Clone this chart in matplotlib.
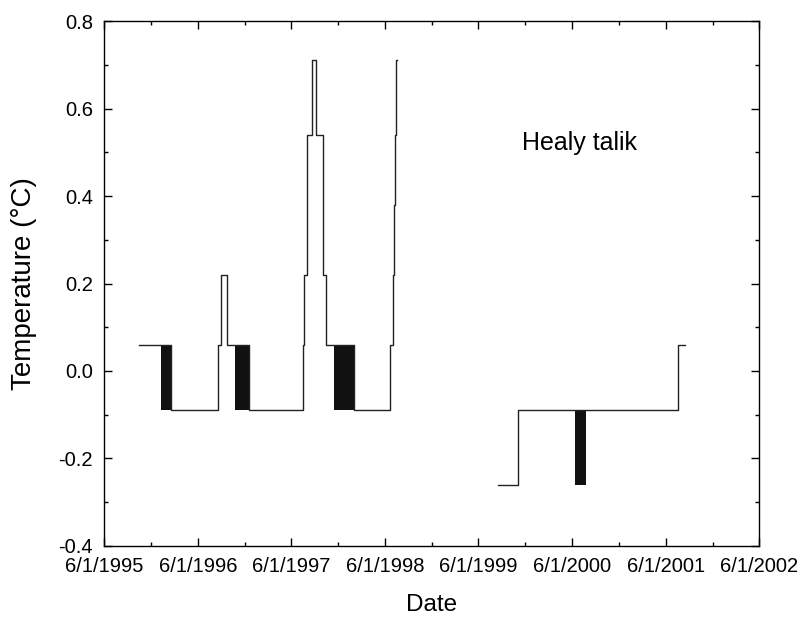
import numpy as np
import pandas as pd
import matplotlib
matplotlib.use('Agg')
import matplotlib.pyplot as plt
import matplotlib.dates as mdates
from matplotlib.ticker import MultipleLocator, FuncFormatter

plt.rcParams['font.family'] = ['Liberation Sans', 'DejaVu Sans']

# step record 1995-1998 (value holds until the next date)
dates1 = ['1995-10-15', '1996-02-19', '1996-08-20', '1996-08-31', '1996-09-24',
          '1996-12-19', '1997-07-15', '1997-07-20', '1997-07-31', '1997-08-19',
          '1997-09-04', '1997-10-04', '1997-10-13', '1998-02-01', '1998-06-21',
          '1998-07-03', '1998-07-07', '1998-07-11', '1998-07-15', '1998-07-18']
temps1 = [0.06, -0.09, 0.06, 0.22, 0.06,
          -0.09, 0.06, 0.22, 0.54, 0.71,
          0.54, 0.22, 0.06, -0.09, 0.06,
          0.22, 0.38, 0.54, 0.71, 0.71]

# step record 1999-2001
dates2 = ['1999-08-16', '1999-11-03', '2001-07-20', '2001-08-16']
temps2 = [-0.26, -0.09, 0.06, 0.06]

# periods where the logger flickered between two levels
band_start = ['1996-01-08', '1996-10-24', '1997-11-15', '2000-06-12']
band_end = ['1996-02-19', '1996-12-19', '1998-02-01', '2000-07-27']
band_low = [-0.09, -0.09, -0.09, -0.26]
band_high = [0.06, 0.06, 0.06, -0.09]

year_ticks = ['%d-06-01' % y for y in range(1995, 2003)]
minor_ticks = ['%d-12-01' % y for y in range(1995, 2002)]

fig = plt.figure(figsize=(8, 6.19), dpi=100)
ax = fig.add_axes([0.13, 0.118, 0.819, 0.848])

ax.plot(pd.to_datetime(dates1), temps1, drawstyle='steps-post', color='#222222', lw=1.0)
ax.plot(pd.to_datetime(dates2), temps2, drawstyle='steps-post', color='#222222', lw=1.0)

for s, e, lo, hi in zip(band_start, band_end, band_low, band_high):
    ax.fill_between(pd.to_datetime([s, e]), [lo, lo], [hi, hi], color='#111111', lw=0)

ax.set_xlim(pd.Timestamp(year_ticks[0]), pd.Timestamp(year_ticks[-1]))
ax.set_ylim(-0.4, 0.8)
ax.set_xticks(pd.to_datetime(year_ticks))
ax.set_xticks(pd.to_datetime(minor_ticks), minor=True)
ax.xaxis.set_major_formatter(FuncFormatter(
    lambda v, p: '%d/%d/%d' % (mdates.num2date(v).month, mdates.num2date(v).day, mdates.num2date(v).year)))
ax.yaxis.set_major_locator(MultipleLocator(0.2))
ax.yaxis.set_minor_locator(MultipleLocator(0.1))
ax.yaxis.set_major_formatter(FuncFormatter(lambda v, p: '%.1f' % v))

ax.tick_params(which='both', direction='in', top=True, right=True, labelsize=14.5, width=1)
ax.tick_params(which='major', length=6)
ax.tick_params(which='minor', length=3)
ax.tick_params(axis='x', pad=8)
ax.tick_params(axis='y', pad=8)
for sp in ax.spines.values():
    sp.set_linewidth(1.0)

ax.text(0.638, 0.768, 'Healy talik', transform=ax.transAxes, fontsize=18, va='center')
ax.set_xlabel('Date', fontsize=17.5)
ax.set_ylabel('Temperature (\u00b0C)', fontsize=20)
ax.xaxis.set_label_coords(0.5, -0.092)
ax.yaxis.set_label_coords(-0.102, 0.5)

fig.savefig('out.png', dpi=100)
